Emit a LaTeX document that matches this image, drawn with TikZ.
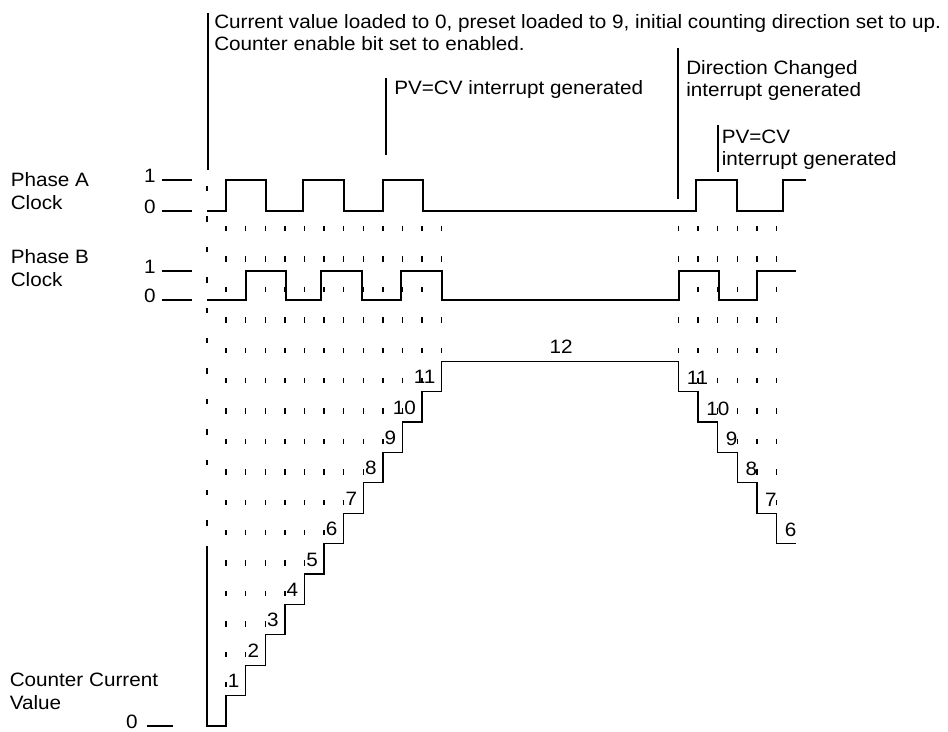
\documentclass[tikz,border=0pt]{standalone}
\usepackage{fontspec}
\setmainfont{Liberation Sans}[FakeStretch=1.07]
\usetikzlibrary{positioning}
\tikzset{
  wave/.style={line width=1pt, line join=miter},
  guide/.style={line width=1pt, dash pattern=on 4pt off 18.8pt},
  annline/.style={line width=1.5pt},
  lvlline/.style={line width=0.9pt},
  txt/.style={inner sep=0pt, anchor=base west, align=left},
}

\begin{document}
\begin{tikzpicture}[
  x=0.75pt, y=-0.75pt,
  font=\fontsize{14.5pt}{16.8pt}\selectfont,
  numlbl/.style={inner sep=0pt, anchor=base east},
]
  \useasboundingbox (0,0) rectangle (948,731);

  % signal names (base = last line)
  \node[txt] (nameA) at (10.5,209) {Phase A\\Clock};
  \node[txt] (nameB) at (10.5,286) {Phase B\\Clock};
  \node[txt] (nameC) at (9.5,709) {Counter Current\\Value};

  % logic levels
  \foreach \n/\v/\y in {a1/1/180, a0/0/211, b1/1/271, b0/0/300} {
    \node[numlbl] (\n) at (156,\y+2) {\v};
    \draw[lvlline] (\n.base east) ++(6,-2) -- ++(30,0);
  }
  \node[numlbl] (c0) at (138,728) {0};
  \draw[lvlline] (c0.base east) ++(9,-2) -- ++(26,0);

  % notes
  \draw[annline] (207.5,13) -- (207.5,170);
  \node[txt] (note1) at (214,50.7) {Current value loaded to 0, preset loaded to 9, initial counting direction set to up.\\Counter enable bit set to enabled.};
  \draw[annline] (386,78) -- (386,155);
  \node[txt] (note2) at (394,95) {PV=CV interrupt generated};
  \draw[annline] (677.5,48) -- (677.5,199);
  \node[txt] (note3) at (686,97) {Direction Changed\\interrupt generated};
  \draw[annline] (717.5,125) -- (717.5,172);
  \node[txt] (note4) at (721.5,166) {PV=CV\\interrupt generated};

  % dotted guides
  \draw[guide] (207,186) -- (207,546);
  \foreach \k in {1,...,12}
    \draw[guide] ({206.5+19.6*\k},226) -- ({206.5+19.6*\k},{726-30.4*(\k-1)});
  \foreach \j in {0,...,5}
    \draw[guide] ({678.5+19.6*\j},226) -- ({678.5+19.6*\j},{726-30.4*(12-\j)});

  % clocks
  \draw[wave] (207,211) -| (226,180) -| (266,211) -| (303,180) -| (344,211) -| (383,180)
    -| (423,211) -| (696,180) -| (737,211) -| (783,180) -- (806,180);
  \draw[wave] (207,300) -| (246,271) -| (286,300) -| (321,271) -| (362,300) -| (401,271)
    -| (442,300) -| (679,271) -| (719,300) -| (757,271) -- (796,271);

  % counter value
  \draw[wave] (207,546) -- (207,726)
    foreach \k in {1,...,12} { -| ({206.5+19.6*\k},{726-30.4*\k}) }
    -- (678.5,{726-30.4*12})
    foreach \j in {1,...,6} { |- ({678.5+19.6*\j},{726-30.4*(12-\j)}) };

  \foreach \k in {1,...,11}
    \node[numlbl] (up\k) at ({206.5+19.6*(\k+1)-6},{726-30.4*\k-8}) {\k};
  \node[inner sep=0pt, anchor=base] (up12) at (561,353) {12};
  \foreach \j [evaluate=\j as \v using int(12-\j)] in {1,...,6}
    \node[inner sep=0pt, anchor=base west] (dn\v) at ({678.5+19.6*(\j-1)+8},{726-30.4*\v-7}) {\v};
\end{tikzpicture}
\end{document}
